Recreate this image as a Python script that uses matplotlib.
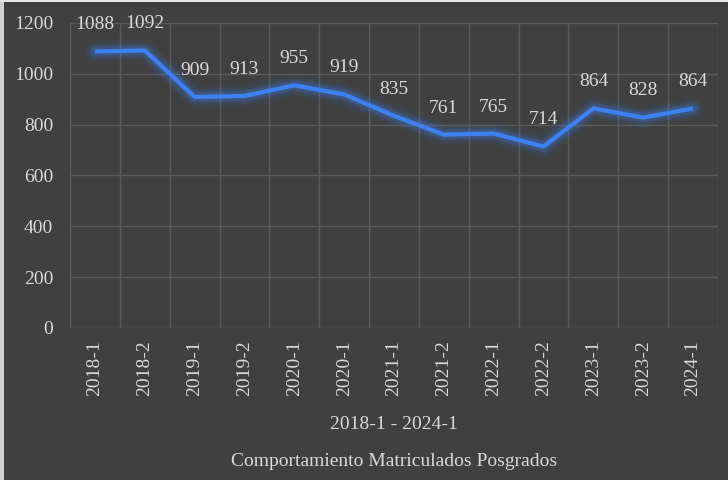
import matplotlib
matplotlib.use("Agg")
import matplotlib.pyplot as plt
from matplotlib.patches import Rectangle

periods = ["2018-1", "2018-2", "2019-1", "2019-2", "2020-1", "2020-1",
           "2021-1", "2021-2", "2022-1", "2022-2", "2023-1", "2023-2", "2024-1"]
enrolled = [1088, 1092, 909, 913, 955, 919, 835, 761, 765, 714, 864, 828, 864]
y_ticks = [0, 200, 400, 600, 800, 1000, 1200]

bg = "#404040"
txt = "#d9d9d9"
grid = "#5a5a5a"
blue = "#3d80f0"

plt.rcParams["font.family"] = ["Liberation Serif", "DejaVu Serif"]

fig = plt.figure(figsize=(7.28, 4.8), dpi=100, facecolor=bg)
# light frame on the left and top edges
fig.patches.append(Rectangle((0, 0), 4 / 728, 1, transform=fig.transFigure,
                             facecolor="#cfcfcf", edgecolor="none"))
fig.patches.append(Rectangle((0, 1 - 2 / 480), 1, 2 / 480, transform=fig.transFigure,
                             facecolor="#e6e6e6", edgecolor="none"))

ax = fig.add_axes([70 / 728, 1 - 328 / 480, 648 / 728, 305 / 480])
ax.set_facecolor(bg)

x = list(range(len(periods)))

# glow
for w, a in [(16, 0.05), (12, 0.08), (9, 0.12), (6.5, 0.18)]:
    ax.plot(x, enrolled, color=blue, lw=w, alpha=a, solid_capstyle="round",
            solid_joinstyle="round")
ax.plot(x, enrolled, color=blue, lw=3, solid_capstyle="butt", zorder=5)

for xi, v in zip(x, enrolled):
    ax.annotate(str(v), (xi, v), xytext=(0, 13), textcoords="offset points",
                ha="center", va="bottom", color=txt, fontsize=14)

ax.set_xlim(-0.5, len(periods) - 0.5)
ax.set_ylim(0, 1200)
ax.set_yticks(y_ticks)
ax.set_xticks(x)
ax.set_xticklabels(periods, rotation=90)
ax.set_xticks([i - 0.5 for i in range(len(periods) + 1)], minor=True)

ax.grid(False)
ax.grid(True, which="minor", axis="x", color=grid, lw=1)
ax.grid(True, which="major", axis="y", color=grid, lw=1)
ax.set_axisbelow(True)

for s in ax.spines.values():
    s.set_visible(False)

ax.tick_params(axis="both", which="both", length=0, colors=txt, labelsize=14)
ax.tick_params(axis="y", pad=12)
ax.tick_params(axis="x", pad=9)

ax.set_xlabel("2018-1 - 2024-1", color=txt, fontsize=14, labelpad=14)
fig.text(394 / 728, 1 - 462 / 480, "Comportamiento Matriculados Posgrados",
         color=txt, fontsize=14, ha="center", va="center")

fig.savefig("out.png", dpi=100, facecolor=bg)
